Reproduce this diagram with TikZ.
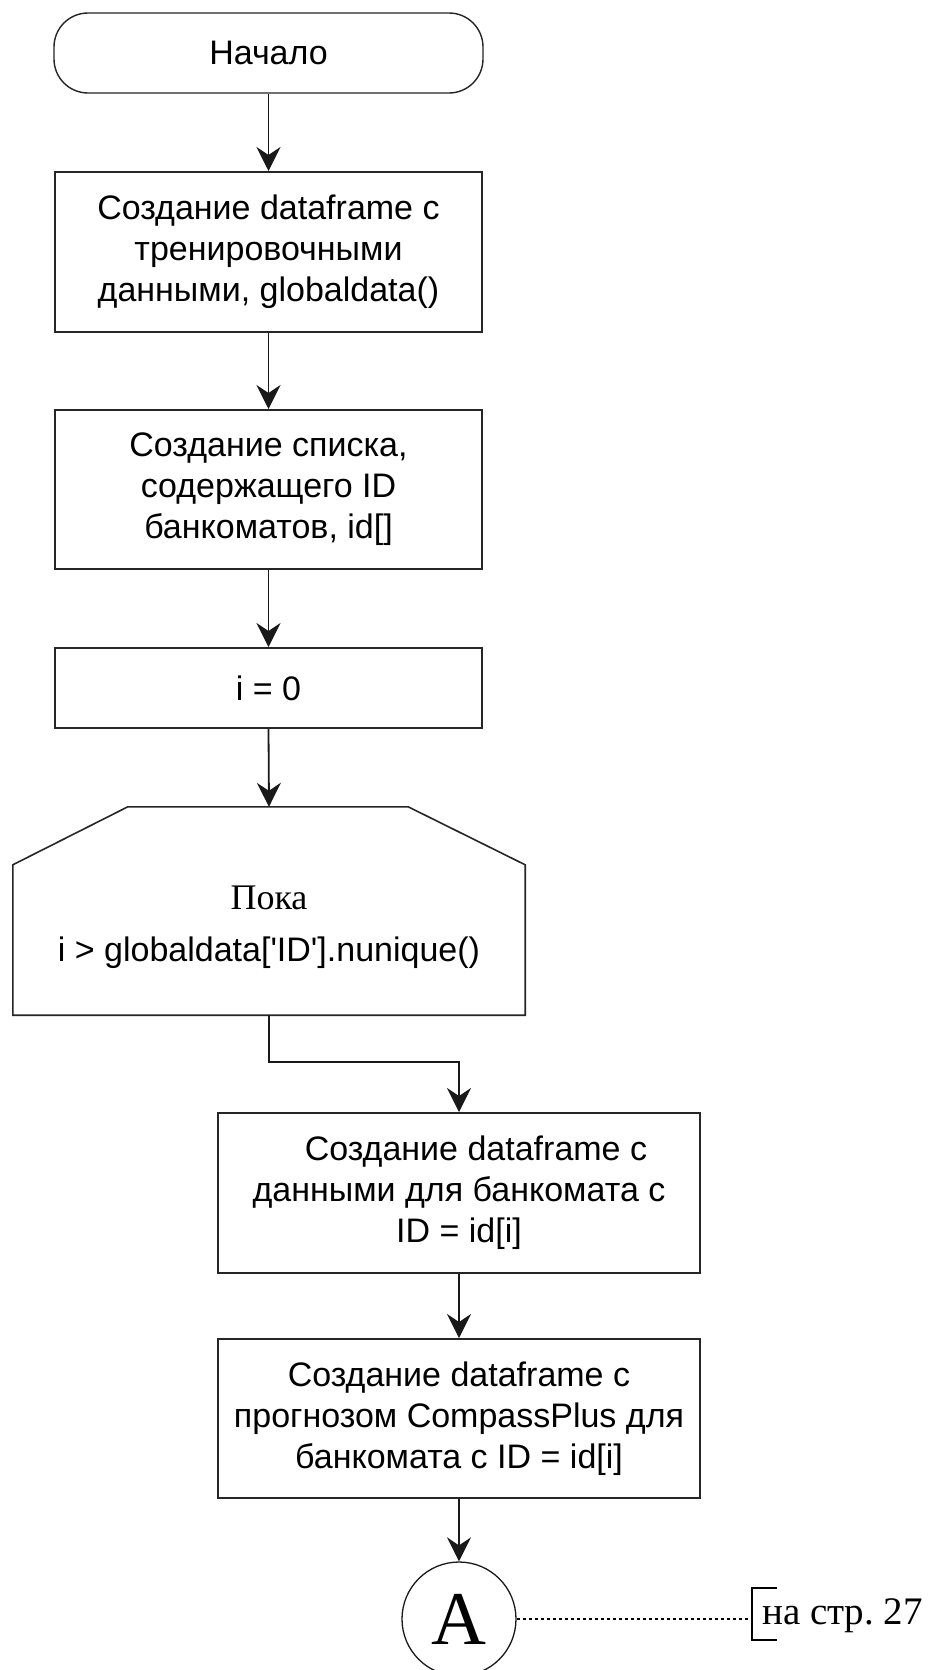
\documentclass[tikz,border=0pt]{standalone}
\usepackage{fontspec}
\setmainfont{Liberation Sans}
\newfontfamily\serifr{Liberation Serif}
\usetikzlibrary{arrows.meta,calc}
\begin{document}
\begin{tikzpicture}[x=1pt,y=-1pt,
  txt/.style={align=center, font=\fontsize{34}{41}\selectfont},
  box/.style={txt, draw=black!85, line width=2pt, rectangle, inner sep=0pt},
  term/.style={txt, draw=black!85, line width=1.4pt, rectangle, rounded corners=34pt, inner sep=0pt},
  loopline/.style={draw=black!85, line width=1.6pt},
  arr/.style={draw=black!90, line width=1.8pt, -{Stealth[length=24pt,width=24pt,inset=8pt]}},
  dotline/.style={draw=black, line width=1.2pt, dash pattern=on 3pt off 3pt},
  conn/.style={circle, draw=black!90, line width=1.3pt, minimum size=114pt, inner sep=0pt,
               font=\serifr\fontsize{76}{76}\selectfont},
  brack/.style={draw=black, line width=1.6pt},
  reftxt/.style={anchor=base west, inner sep=0pt, font=\serifr\fontsize{39}{39}\selectfont}
]
\fill[white] (0,0) rectangle (940,1670);
\useasboundingbox (0,0) rectangle (940,1670);

\node[term, minimum width=429pt, minimum height=80pt] (start) at (268.5,53) {Начало};
\node[box, minimum width=427pt, minimum height=160pt] (b1) at (268.5,252)
  {Создание dataframe с\\тренировочными\\данными, globaldata()};
\node[box, minimum width=427pt, minimum height=159pt] (b2) at (268.5,489.5)
  {Создание списка,\\содержащего ID\\банкоматов, id[]};
\node[box, minimum width=427pt, minimum height=80pt] (b3) at (268.5,688) {i = 0};

\node[minimum width=512pt, minimum height=208pt, inner sep=0pt] (loop) at (269,911) {};
\draw[loopline] (loop.south west) -- ($(loop.north west)+(0,58)$) -- ($(loop.north west)+(115,0)$)
  -- ($(loop.north east)+(-117,0)$) -- ($(loop.north east)+(0,58)$) -- (loop.south east) -- cycle;
\node[txt] (looptxt) at (269,927)
  {{\serifr\fontsize{36}{41}\selectfont Пока}\\[11pt]i > globaldata[\textquotesingle ID\textquotesingle].nunique()};

\node[box, minimum width=482pt, minimum height=160pt] (b4) at (459,1193)
  {\hspace*{1em}Создание dataframe с\\данными для банкомата с\\ID = id[i]};
\node[box, minimum width=482pt, minimum height=159pt] (b5) at (459,1418.5)
  {Создание dataframe с\\прогнозом CompassPlus для\\банкомата с ID = id[i]};

\node[conn] (A) at (459,1619) {A};
\coordinate (brk) at (752,1619);
\node[reftxt] (ref) at (762,1624) {на стр.\ 27};

\draw[arr] (start.south) -- (b1.north);
\draw[arr] (b1.south) -- (b2.north);
\draw[arr] (b2.south) -- (b3.north);
\draw[arr] (b3.south) -- (loop.north);
\draw[arr] (loop.south) |- ($(b4.north)+(0,-50)$) -- (b4.north);
\draw[arr] (b4.south) -- (b5.north);
\draw[arr] (b5.south) -- (A.north);
\draw[dotline] (A.east) -- (brk);
\draw[brack] ($(brk)+(25,-31)$) -- ($(brk)+(0,-31)$) -- ($(brk)+(0,21)$) -- ($(brk)+(25,21)$);
\end{tikzpicture}
\end{document}
